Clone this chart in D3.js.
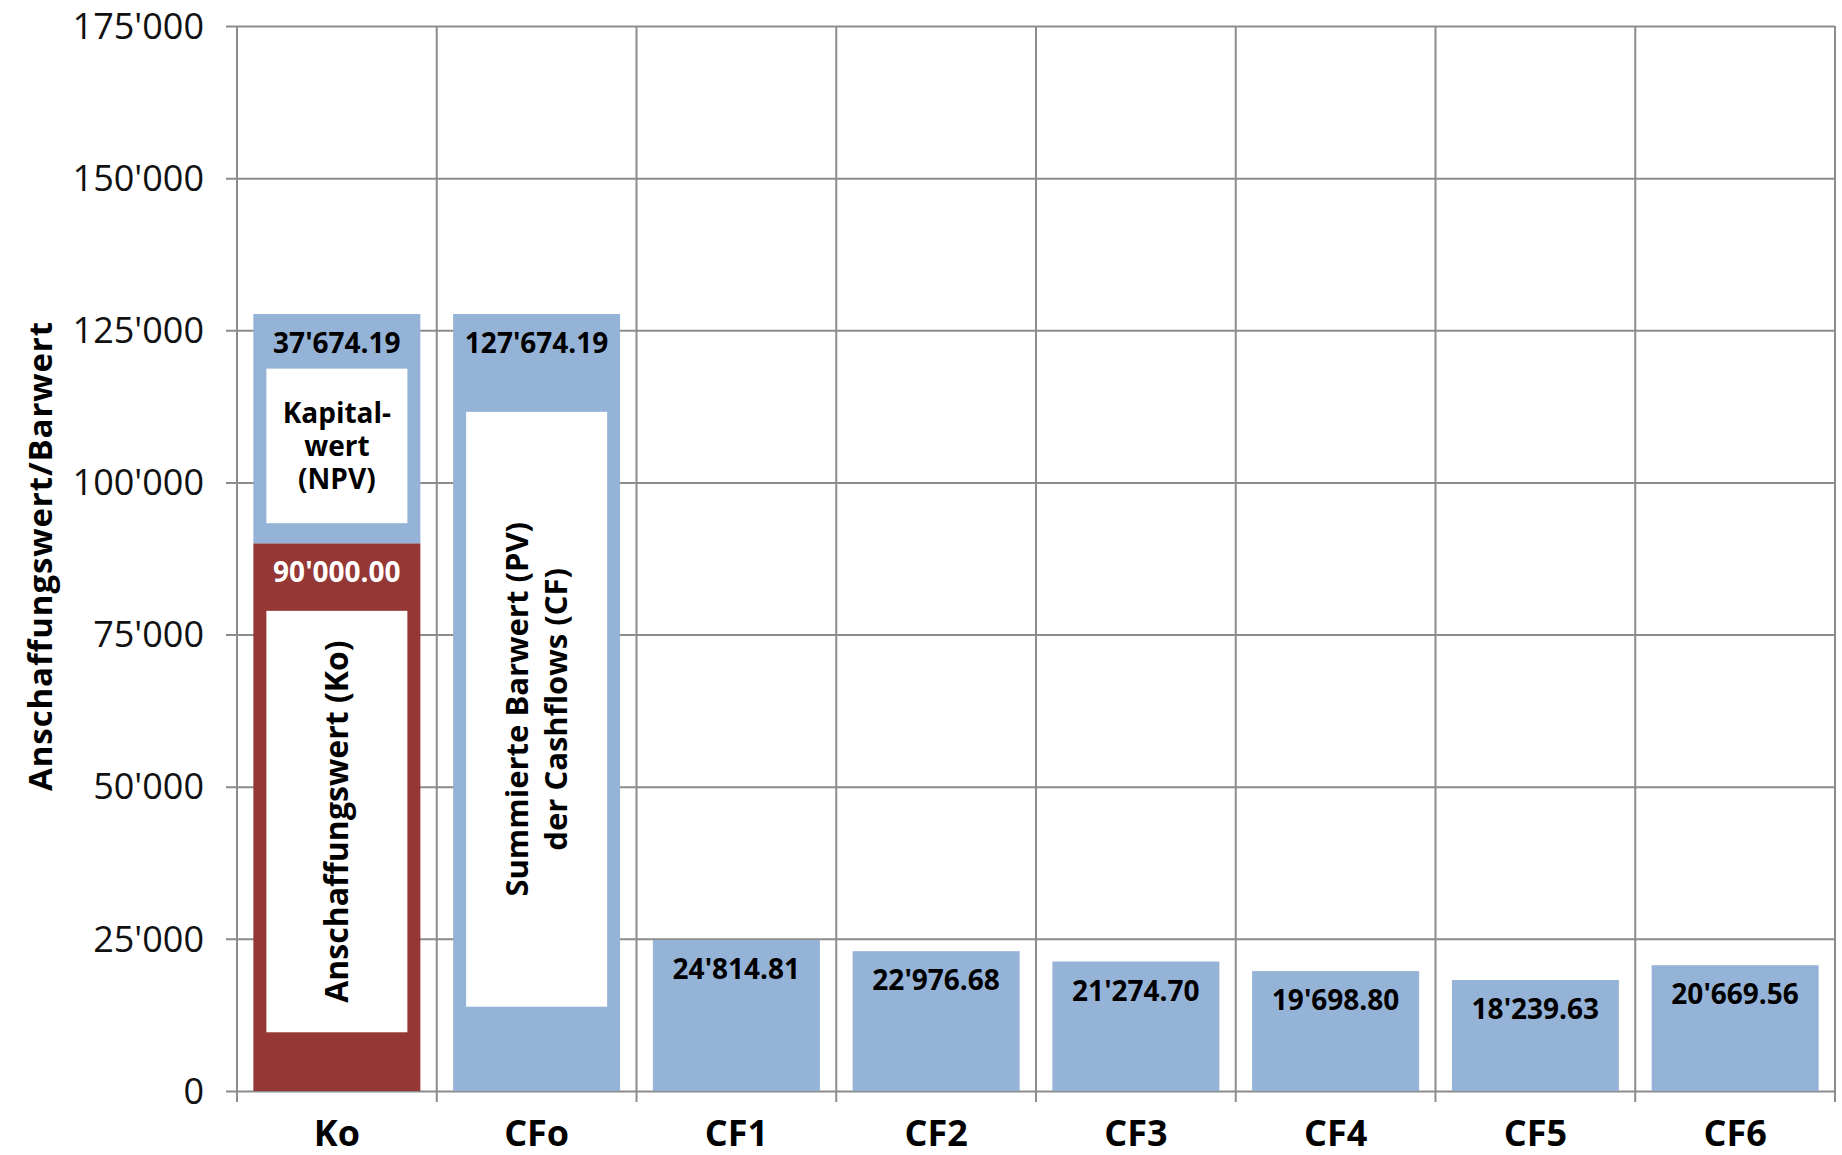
<!DOCTYPE html>
<html>
<head>
<meta charset="utf-8">
<script src="https://cdn.jsdelivr.net/npm/d3@7"></script>
<style>
  html, body { margin: 0; padding: 0; background: #fff; }
  svg { display: block; font-family: "Open Sans", "Noto Sans", sans-serif; }
</style>
</head>
<body>
<svg id="chart" width="1842" height="1155"></svg>
<script>
// ---- data ----
const categories = ["Ko", "CFo", "CF1", "CF2", "CF3", "CF4", "CF5", "CF6"];
// lower (red) segment: Anschaffungswert
const investmentValues = [90000, 0, 0, 0, 0, 0, 0, 0];
// upper / single (blue) segment: NPV on Ko, present values elsewhere
const presentValues = [37674.19, 127674.19, 24814.81, 22976.68, 21274.70, 19698.80, 18239.63, 20669.56];
const yTicks = [0, 25000, 50000, 75000, 100000, 125000, 150000, 175000];
const yTitle = "Anschaffungswert/Barwert";
// annotation text boxes (value range on the y axis they cover)
const noteCategories = ["Ko", "Ko", "CFo"];
const noteFrom = [93300, 9650, 13850];
const noteTo = [118700, 78900, 111600];
const noteLines = [["Kapital-", "wert", "(NPV)"], ["Anschaffungswert (Ko)"], ["Summierte Barwert (PV)", "der Cashflows (CF)"]];
const noteVertical = [false, true, true];

// ---- setup ----
const W = 1842, H = 1155;
const margin = { top: 26, right: 7, bottom: 64, left: 237 };
const svg = d3.select("#chart");
const loc = d3.formatLocale({ decimal: ".", thousands: "'", grouping: [3], currency: ["", ""] });
const fmtTick = loc.format(",.0f");
const fmtVal = loc.format(",.2f");

const x = d3.scaleBand().domain(categories)
  .range([margin.left, W - margin.right])
  .paddingInner(0.164).paddingOuter(0.082);
const y = d3.scaleLinear().domain([0, 175000]).range([H - margin.bottom, margin.top]);

const gridColor = "#8c8c8c";
const blue = "#95b3d7", red = "#953735";

const half = (x.step() - x.bandwidth()) / 2;
const bounds = categories.map(c => x(c) - half).concat([x(categories[categories.length - 1]) + x.bandwidth() + half]);

// horizontal grid + left ticks
const yAxis = d3.axisLeft(y).tickValues(yTicks).tickFormat(fmtTick)
  .tickSize(-(bounds[bounds.length - 1] - bounds[0] + 11)).tickPadding(12);
const gy = svg.append("g").attr("transform", `translate(${bounds[0] - 11},0)`).call(yAxis);
gy.select(".domain").remove();
gy.selectAll(".tick line").attr("stroke", gridColor).attr("stroke-width", 2)
  .attr("x1", 0).attr("x2", bounds[bounds.length - 1] - bounds[0] + 11);
gy.selectAll(".tick text").attr("font-size", 36).attr("fill", "#111")
  .attr("font-family", "'Open Sans', sans-serif").attr("x", -22).attr("dy", "0.34em");

// vertical grid lines with ticks below axis
svg.append("g").selectAll("line").data(bounds).join("line")
  .attr("x1", d => d).attr("x2", d => d)
  .attr("y1", y(175000)).attr("y2", y(0) + 11)
  .attr("stroke", gridColor).attr("stroke-width", 2);

// stacked bars
const rows = categories.map((c, i) => ({ cat: c, inv: investmentValues[i], pv: presentValues[i] }));
const stack = d3.stack().keys(["inv", "pv"])(rows);
const colors = { inv: red, pv: blue };
const layers = svg.append("g").selectAll("g").data(stack).join("g")
  .attr("fill", d => colors[d.key]);
layers.selectAll("rect").data(d => d.filter(s => s[1] - s[0] > 0).map(s => ({ s, key: d.key })))
  .join("rect")
  .attr("x", d => x(d.s.data.cat))
  .attr("width", x.bandwidth())
  .attr("y", d => y(d.s[1]))
  .attr("height", d => y(d.s[0]) - y(d.s[1]));

// value labels
const labels = [];
stack.forEach(layer => layer.forEach(s => {
  if (s[1] - s[0] > 0) labels.push({ cat: s.data.cat, top: s[1], v: s[1] - s[0], key: layer.key });
}));
svg.append("g").selectAll("text").data(labels).join("text")
  .attr("x", d => x(d.cat) + x.bandwidth() / 2)
  .attr("y", d => y(d.top) + 39)
  .attr("text-anchor", "middle")
  .attr("font-size", 28).attr("font-weight", "bold")
  .attr("fill", d => d.key === "inv" ? "#fff" : "#000")
  .text(d => fmtVal(d.v));

// annotation boxes
const inset = 13;
const notes = noteCategories.map((c, i) => ({ cat: c, from: noteFrom[i], to: noteTo[i], lines: noteLines[i], vertical: noteVertical[i] }));
const noteSizes = [28, 32, 31];
const ng = svg.append("g").selectAll("g").data(notes).join("g");
ng.append("rect")
  .attr("x", d => x(d.cat) + inset)
  .attr("width", x.bandwidth() - 2 * inset)
  .attr("y", d => y(d.to))
  .attr("height", d => y(d.from) - y(d.to))
  .attr("fill", "#fff");
ng.each(function (d, i) {
  const cx = x(d.cat) + x.bandwidth() / 2;
  const cy = (y(d.to) + y(d.from)) / 2;
  const lh = d.vertical ? 39 : 33.5;
  const n = d.lines.length;
  const t = d3.select(this).append("text")
    .attr("text-anchor", "middle")
    .attr("font-size", noteSizes[i]).attr("font-weight", "bold").attr("fill", "#000")
    .attr("transform", d.vertical ? `translate(${cx},${cy}) rotate(-90)` : `translate(${cx},${cy})`);
  d.lines.forEach((ln, k) => {
    t.append("tspan").attr("x", 0)
      .attr("y", (k - (n - 1) / 2) * lh)
      .attr("dy", "0.36em")
      .text(ln);
  });
});

// x labels
svg.append("g").selectAll("text").data(categories).join("text")
  .attr("x", d => x(d) + x.bandwidth() / 2)
  .attr("y", 1146)
  .attr("text-anchor", "middle")
  .attr("font-size", 36).attr("font-weight", "bold").attr("fill", "#000")
  .text(d => d);

// y title
svg.append("text")
  .attr("transform", `translate(52,556) rotate(-90)`)
  .attr("text-anchor", "middle")
  .attr("font-size", 33).attr("font-weight", "bold").attr("fill", "#000")
  .attr("letter-spacing", 0.9)
  .text(yTitle);
</script>
</body>
</html>
